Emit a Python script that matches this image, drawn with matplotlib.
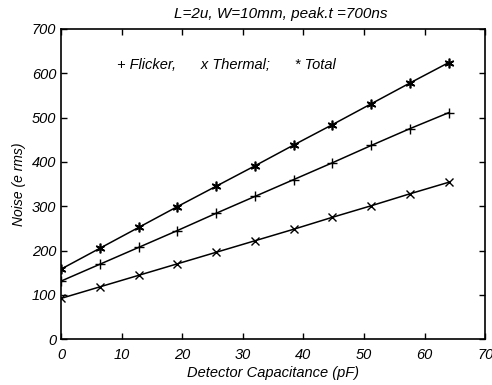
import matplotlib.pyplot as plt
import numpy as np

capacitance = [0, 6.4, 12.8, 19.2, 25.6, 32, 38.4, 44.8, 51.2, 57.6, 64]
flicker = [131, 169, 207, 245, 284, 322, 360, 398, 437, 475, 511]
thermal = [92, 118, 144, 170, 196, 222, 248, 275, 301, 328, 354]
total = [158, 205, 252, 299, 345, 391, 438, 484, 531, 578, 624]

xticks = [0, 10, 20, 30, 40, 50, 60, 70]
yticks = [0, 100, 200, 300, 400, 500, 600, 700]

plt.rcParams['font.family'] = ['Liberation Sans', 'DejaVu Sans']
plt.rcParams['font.style'] = 'italic'

fig = plt.figure(figsize=(4.92, 3.85), dpi=100)
ax = fig.add_axes([0.124, 0.119, 0.862, 0.806])

ax.plot(capacitance, total, color='black', lw=1.1, marker=(6, 2, 0), ms=7, mew=1.2)
ax.plot(capacitance, flicker, color='black', lw=1.1, marker='+', ms=7, mew=1.0)
ax.plot(capacitance, thermal, color='black', lw=1.1, marker='x', ms=6, mew=1.0)

ax.set_xlim(0, 70)
ax.set_ylim(0, 700)
ax.set_xticks(xticks)
ax.set_yticks(yticks)
ax.tick_params(direction='in', top=True, right=True, labelsize=10.5, length=4, width=1)
ax.tick_params(axis='x', pad=6)
for s in ax.spines.values():
    s.set_linewidth(1.2)

ax.text(9.2, 619, '+ Flicker,      x Thermal;      * Total', fontsize=10.5, va='center')
ax.set_xlabel('Detector Capacitance (pF)', fontsize=10.5, labelpad=3)
ax.set_ylabel('Noise (e rms)', fontsize=10, labelpad=4)
fig.text(0.57, 0.963, 'L=2u, W=10mm, peak.t =700ns', fontsize=11, ha='center', va='center')

fig.savefig('out.png', dpi=100)
